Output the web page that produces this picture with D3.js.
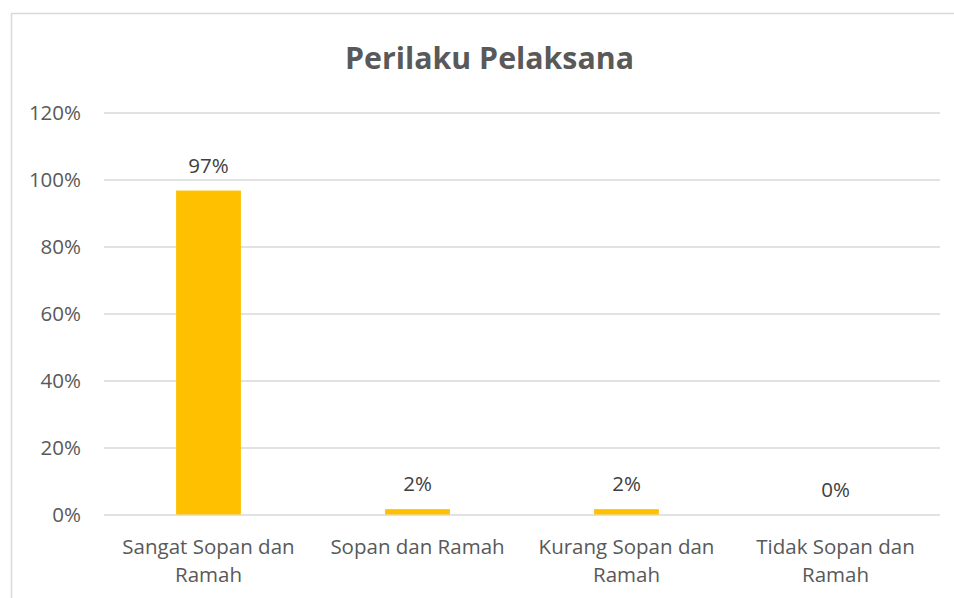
<!DOCTYPE html>
<html><head><meta charset="utf-8">
<script src="https://cdn.jsdelivr.net/npm/d3@7"></script>
<style>html,body{margin:0;padding:0;background:#fff;overflow:hidden;}svg{display:block;}</style>
</head><body>
<script>
const title = "Perilaku Pelaksana";
const categories = [["Sangat Sopan dan","Ramah"],["Sopan dan Ramah"],["Kurang Sopan dan","Ramah"],["Tidak Sopan dan","Ramah"]];
const values = [0.967, 0.016, 0.016, 0];
const yTicks = [0, 0.2, 0.4, 0.6, 0.8, 1.0, 1.2];

const W = 954, H = 598;
const svg = d3.select("body").append("svg").attr("width", W).attr("height", H);
const font = "'Open Sans', sans-serif";
const textColor = "#595959";

// chart frame: only top and left edges fall inside the picture
svg.append("path").attr("d", `M${W},13.5H11.5V${H}`)
  .attr("fill", "none").attr("stroke", "#d9d9d9").attr("stroke-width", 1.5);

const x = d3.scaleBand().domain(d3.range(categories.length)).range([104, 940]).paddingInner(0.69).paddingOuter(0.345);
const y = d3.scaleLinear().domain([0, 1.2]).range([514.5, 112.5]);

svg.append("text").attr("x", 489.5).attr("y", 69).attr("text-anchor", "middle")
  .attr("font-family", font).attr("font-weight", "bold").attr("font-size", 30.3).attr("fill", textColor).text(title);

const yAxis = d3.axisLeft(y).tickValues(yTicks).tickFormat(d3.format(".0%")).tickSize(-836).tickPadding(23);
const gy = svg.append("g").attr("transform", "translate(104,0)").call(yAxis);
gy.select(".domain").remove();
gy.selectAll(".tick line").attr("stroke", "#d9d9d9").attr("stroke-width", 1.5);
gy.selectAll(".tick text").attr("font-family", font).attr("font-size", 20.5).attr("fill", textColor);

svg.selectAll("rect.bar").data(values).join("rect").attr("class", "bar")
  .attr("x", (d, i) => x(i)).attr("width", x.bandwidth())
  .attr("y", d => y(d)).attr("height", d => y(0) - y(d)).attr("fill", "#FFC000");

svg.selectAll("text.val").data(values).join("text").attr("class", "val")
  .attr("x", (d, i) => x(i) + x.bandwidth() / 2).attr("y", d => y(d) - 18)
  .attr("text-anchor", "middle").attr("font-family", font).attr("font-size", 20.5).attr("fill", "#404040")
  .text(d => d3.format(".0%")(d));

const xl = svg.selectAll("text.cat").data(categories).join("text").attr("class", "cat")
  .attr("x", (d, i) => x(i) + x.bandwidth() / 2).attr("y", 553.5)
  .attr("text-anchor", "middle").attr("font-family", font).attr("font-size", 20.5).attr("fill", textColor);
xl.each(function(d, i) {
  d3.select(this).selectAll("tspan").data(d).join("tspan")
    .attr("x", x(i) + x.bandwidth() / 2).attr("dy", (t, j) => j === 0 ? 0 : 28.5).text(t => t);
});
</script>
</body></html>
